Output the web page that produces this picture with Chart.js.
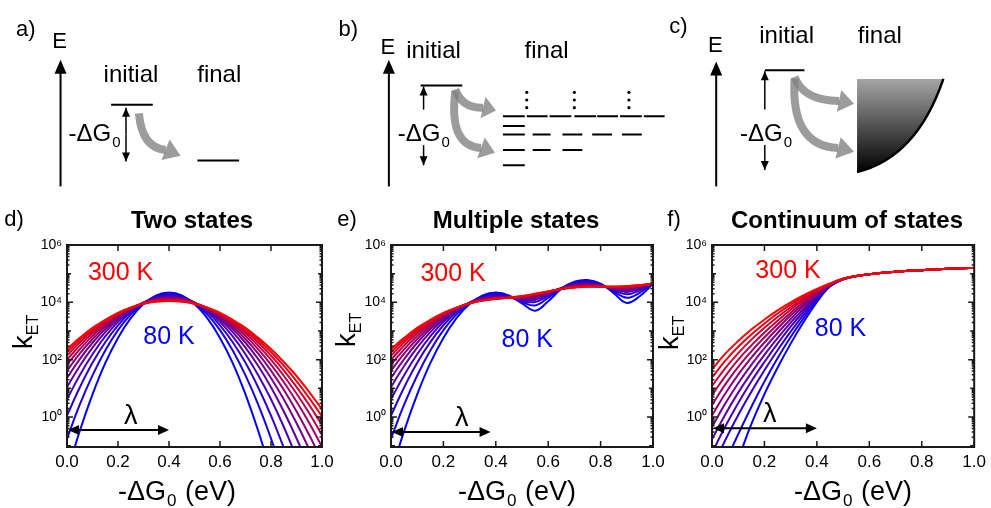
<!DOCTYPE html>
<html>
<head>
<meta charset="utf-8">
<script src="https://cdn.jsdelivr.net/npm/chart.js@4.4.1/dist/chart.umd.min.js"></script>
<style>
  body { margin: 0; background: #fff; width: 991px; height: 508px; overflow: hidden; position: relative; }
  canvas { position: absolute; }
</style>
</head>
<body>
<canvas id="top" width="991" height="200" style="left:0px;top:0px"></canvas>
<canvas id="panelD" width="340" height="308" style="left:0px;top:200px"></canvas>
<canvas id="panelE" width="340" height="308" style="left:330px;top:200px"></canvas>
<canvas id="panelF" width="336" height="308" style="left:655px;top:200px"></canvas>
<script>
// -dG0 in eV
const xs = [0, 0.05, 0.1, 0.15, 0.2, 0.25, 0.3, 0.35, 0.4, 0.45, 0.5, 0.55, 0.6, 0.65, 0.7, 0.75, 0.8, 0.85, 0.9, 0.95, 1];
const xTicks = [0, 0.2, 0.4, 0.6, 0.8, 1];
const yTicks = [1, 1e2, 1e4, 1e6];
const temps = [80, 100, 120, 140, 160, 180, 200, 220, 240, 260, 280, 300];

// log10(kET), one row per temperature (80 K ... 300 K)
const twoStates = [
  [-1.96, -0.49, 0.79, 1.88, 2.76, 3.45, 3.94, 4.24, 4.34, 4.24, 3.94, 3.45, 2.76, 1.88, 0.79, -0.49, -1.96, -3.64, -5.51, -7.57, -9.84],
  [-0.75, 0.43, 1.45, 2.32, 3.03, 3.58, 3.97, 4.21, 4.29, 4.21, 3.97, 3.58, 3.03, 2.32, 1.45, 0.43, -0.75, -2.09, -3.59, -5.24, -7.05],
  [0.05, 1.03, 1.89, 2.61, 3.20, 3.66, 3.99, 4.18, 4.25, 4.18, 3.99, 3.66, 3.20, 2.61, 1.89, 1.03, 0.05, -1.07, -2.31, -3.69, -5.20],
  [0.62, 1.46, 2.19, 2.81, 3.32, 3.71, 3.99, 4.16, 4.22, 4.16, 3.99, 3.71, 3.32, 2.81, 2.19, 1.46, 0.62, -0.34, -1.41, -2.59, -3.88],
  [1.04, 1.78, 2.42, 2.96, 3.40, 3.74, 3.99, 4.14, 4.19, 4.14, 3.99, 3.74, 3.40, 2.96, 2.42, 1.78, 1.04, 0.20, -0.74, -1.77, -2.90],
  [1.36, 2.02, 2.59, 3.07, 3.46, 3.77, 3.99, 4.12, 4.16, 4.12, 3.99, 3.77, 3.46, 3.07, 2.59, 2.02, 1.36, 0.62, -0.21, -1.13, -2.14],
  [1.62, 2.21, 2.72, 3.15, 3.51, 3.78, 3.98, 4.10, 4.14, 4.10, 3.98, 3.78, 3.51, 3.15, 2.72, 2.21, 1.62, 0.95, 0.20, -0.63, -1.53],
  [1.83, 2.36, 2.83, 3.22, 3.54, 3.80, 3.97, 4.08, 4.12, 4.08, 3.97, 3.80, 3.54, 3.22, 2.83, 2.36, 1.83, 1.22, 0.54, -0.21, -1.04],
  [2.00, 2.49, 2.92, 3.28, 3.57, 3.80, 3.97, 4.07, 4.10, 4.07, 3.97, 3.80, 3.57, 3.28, 2.92, 2.49, 2.00, 1.44, 0.82, 0.13, -0.63],
  [2.14, 2.60, 2.99, 3.32, 3.60, 3.81, 3.96, 4.05, 4.08, 4.05, 3.96, 3.81, 3.60, 3.32, 2.99, 2.60, 2.14, 1.63, 1.05, 0.42, -0.28],
  [2.27, 2.69, 3.05, 3.36, 3.62, 3.81, 3.95, 4.04, 4.07, 4.04, 3.95, 3.81, 3.62, 3.36, 3.05, 2.69, 2.27, 1.79, 1.25, 0.66, 0.02],
  [2.37, 2.76, 3.11, 3.39, 3.63, 3.81, 3.95, 4.02, 4.05, 4.02, 3.95, 3.81, 3.63, 3.39, 3.11, 2.76, 2.37, 1.92, 1.43, 0.87, 0.27]
];
const multipleStates = [
  [-1.96, -0.49, 0.79, 1.88, 2.76, 3.45, 3.94, 4.24, 4.34, 4.24, 3.96, 3.71, 4.04, 4.47, 4.72, 4.78, 4.65, 4.32, 3.98, 4.22, 4.64],
  [-0.75, 0.43, 1.45, 2.32, 3.03, 3.58, 3.97, 4.21, 4.29, 4.21, 4.01, 3.89, 4.16, 4.49, 4.69, 4.74, 4.63, 4.38, 4.16, 4.34, 4.66],
  [0.05, 1.03, 1.89, 2.61, 3.20, 3.66, 3.99, 4.18, 4.25, 4.19, 4.05, 4.01, 4.23, 4.49, 4.66, 4.70, 4.61, 4.42, 4.28, 4.42, 4.66],
  [0.62, 1.46, 2.19, 2.81, 3.32, 3.71, 3.99, 4.16, 4.22, 4.18, 4.08, 4.09, 4.28, 4.49, 4.63, 4.67, 4.60, 4.45, 4.36, 4.47, 4.67],
  [1.04, 1.78, 2.42, 2.96, 3.40, 3.74, 3.99, 4.14, 4.19, 4.17, 4.11, 4.15, 4.31, 4.49, 4.61, 4.64, 4.58, 4.47, 4.42, 4.51, 4.67],
  [1.36, 2.02, 2.59, 3.07, 3.46, 3.77, 3.99, 4.12, 4.17, 4.16, 4.14, 4.19, 4.33, 4.49, 4.59, 4.62, 4.57, 4.49, 4.46, 4.54, 4.67],
  [1.62, 2.21, 2.72, 3.15, 3.51, 3.78, 3.98, 4.10, 4.16, 4.16, 4.16, 4.22, 4.35, 4.48, 4.57, 4.60, 4.56, 4.51, 4.49, 4.56, 4.66],
  [1.83, 2.36, 2.83, 3.22, 3.54, 3.80, 3.98, 4.09, 4.14, 4.16, 4.17, 4.24, 4.36, 4.48, 4.56, 4.58, 4.56, 4.52, 4.51, 4.57, 4.66],
  [2.00, 2.49, 2.92, 3.28, 3.57, 3.80, 3.97, 4.08, 4.13, 4.16, 4.19, 4.26, 4.37, 4.47, 4.55, 4.57, 4.55, 4.53, 4.53, 4.58, 4.66],
  [2.14, 2.60, 2.99, 3.32, 3.60, 3.81, 3.97, 4.07, 4.13, 4.16, 4.20, 4.28, 4.37, 4.47, 4.53, 4.56, 4.55, 4.54, 4.54, 4.59, 4.66],
  [2.27, 2.69, 3.05, 3.36, 3.62, 3.81, 3.96, 4.06, 4.12, 4.16, 4.21, 4.29, 4.38, 4.47, 4.53, 4.55, 4.55, 4.54, 4.56, 4.60, 4.65],
  [2.37, 2.76, 3.11, 3.39, 3.63, 3.81, 3.96, 4.06, 4.12, 4.17, 4.22, 4.30, 4.38, 4.46, 4.52, 4.54, 4.55, 4.54, 4.57, 4.60, 4.65]
];
const continuum = [
  [-3.60, -2.50, -1.45, -0.25, 0.80, 1.72, 2.56, 3.32, 4.01, 4.55, 4.79, 4.91, 4.98, 5.03, 5.07, 5.10, 5.12, 5.15, 5.17, 5.19, 5.20],
  [-2.70, -1.60, -0.60, 0.35, 1.24, 2.05, 2.79, 3.46, 4.08, 4.56, 4.80, 4.91, 4.98, 5.03, 5.07, 5.10, 5.12, 5.15, 5.17, 5.19, 5.20],
  [-1.80, -0.82, 0.07, 0.88, 1.63, 2.33, 2.98, 3.58, 4.14, 4.57, 4.80, 4.91, 4.98, 5.03, 5.07, 5.10, 5.12, 5.15, 5.17, 5.19, 5.20],
  [-1.25, -0.34, 0.49, 1.24, 1.92, 2.56, 3.15, 3.69, 4.19, 4.58, 4.81, 4.92, 4.98, 5.03, 5.07, 5.10, 5.12, 5.15, 5.17, 5.19, 5.20],
  [-0.78, 0.08, 0.85, 1.54, 2.17, 2.75, 3.29, 3.78, 4.23, 4.59, 4.81, 4.92, 4.98, 5.03, 5.07, 5.10, 5.12, 5.15, 5.17, 5.19, 5.20],
  [-0.35, 0.46, 1.18, 1.82, 2.40, 2.93, 3.42, 3.87, 4.27, 4.60, 4.81, 4.92, 4.98, 5.03, 5.07, 5.10, 5.12, 5.15, 5.17, 5.19, 5.20],
  [0.05, 0.81, 1.48, 2.07, 2.60, 3.09, 3.54, 3.94, 4.31, 4.61, 4.82, 4.92, 4.98, 5.03, 5.07, 5.10, 5.12, 5.15, 5.17, 5.19, 5.20],
  [0.42, 1.13, 1.75, 2.29, 2.78, 3.23, 3.64, 4.01, 4.35, 4.62, 4.82, 4.92, 4.98, 5.03, 5.07, 5.10, 5.12, 5.15, 5.17, 5.19, 5.20],
  [0.76, 1.42, 2.00, 2.50, 2.95, 3.36, 3.74, 4.08, 4.38, 4.63, 4.82, 4.92, 4.98, 5.03, 5.07, 5.10, 5.12, 5.15, 5.17, 5.19, 5.20],
  [1.08, 1.70, 2.23, 2.70, 3.11, 3.49, 3.83, 4.14, 4.41, 4.64, 4.82, 4.92, 4.98, 5.03, 5.07, 5.10, 5.12, 5.15, 5.17, 5.19, 5.20],
  [1.38, 1.96, 2.45, 2.88, 3.26, 3.61, 3.92, 4.20, 4.44, 4.65, 4.82, 4.92, 4.98, 5.03, 5.07, 5.10, 5.12, 5.15, 5.17, 5.19, 5.20],
  [1.66, 2.20, 2.65, 3.05, 3.40, 3.72, 4.00, 4.25, 4.47, 4.66, 4.82, 4.92, 4.98, 5.03, 5.07, 5.10, 5.12, 5.15, 5.17, 5.19, 5.20]
];

// schematic row (a-c), in pixel units of the top canvas
const levelLines = [
  [108, 150, 105], [195, 237, 163],
  [420, 462, 85],
  [503, 525, 117], [527, 548, 117], [550, 572, 117], [575, 597, 117], [598, 619, 117], [621, 643, 117], [645, 666, 117],
  [503, 525, 127],
  [503, 525, 136], [533, 551, 136], [563, 583, 136], [593, 613, 136], [623, 643, 136],
  [503, 525, 152], [533, 551, 152], [563, 583, 152],
  [503, 525, 168],
  [767, 807, 69]
];
const levelDots = [[527, 92], [527, 100], [527, 108], [575, 92], [575, 100], [575, 108], [630, 92], [630, 100], [630, 108]];
const energyAxes = [[57, 58], [388, 58], [718, 60]];
const gapArrows = [[123, 136, 108], [123, 136, 164], [423, 110, 86], [423, 147, 168], [767, 110, 70], [767, 147, 173]];
const grayArrows = [
  [136, 114, 139, 150, 163, 152, 178, 158],
  [455, 89, 462, 109, 483, 108, 496, 111],
  [455, 91, 448, 148, 481, 150, 495, 155],
  [797, 76, 806, 101, 842, 101, 857, 104],
  [797, 78, 793, 148, 841, 150, 857, 154]
];
const diagramText = [
  ['a)', 22, 27], ['E', 56, 40], ['initial', 128, 74], ['final', 217, 74],
  ['b)', 347, 27], ['E', 387, 46], ['initial', 433, 49], ['final', 547, 49],
  ['c)', 680, 24], ['E', 717, 44], ['initial', 789, 34], ['final', 883, 34]
];
const gapLabels = [[65, 135], [397, 135], [742, 135]];

const FONT = '"Liberation Sans", Arial, sans-serif';
Chart.defaults.font.family = FONT;
Chart.defaults.color = '#000';
const sup = { '0': '\u2070', '2': '\u00b2', '4': '\u2074', '6': '\u2076' };

function tempColor(i) {
  const t = i / (temps.length - 1);
  return 'rgb(' + Math.round(255 * t) + ',0,' + Math.round(255 * (1 - t)) + ')';
}

function arrowHead(ctx, tx, ty, dx, dy, len, half) {
  const n = Math.hypot(dx, dy);
  dx /= n; dy /= n;
  const bx = tx - dx * len, by = ty - dy * len;
  ctx.beginPath();
  ctx.moveTo(tx, ty);
  ctx.lineTo(bx - dy * half, by + dx * half);
  ctx.lineTo(bx + dy * half, by - dx * half);
  ctx.closePath();
  ctx.fill();
}

function drawDeltaG(ctx, x, y, big, small) {
  ctx.textAlign = 'left';
  ctx.textBaseline = 'alphabetic';
  ctx.font = big + 'px ' + FONT;
  ctx.fillText('-\u0394G', x, y);
  const w = ctx.measureText('-\u0394G').width;
  ctx.font = small + 'px ' + FONT;
  ctx.fillText('0', x + w + 1, y + big * 0.25);
}

const diagramDeco = {
  id: 'diagramDeco',
  afterDatasetsDraw(chart) {
    const ctx = chart.ctx;
    const X = v => chart.scales.x.getPixelForValue(v);
    const Y = v => chart.scales.y.getPixelForValue(v);
    ctx.save();
    // continuum of final states
    const g = ctx.createLinearGradient(0, Y(78), 0, Y(175));
    g.addColorStop(0, 'rgb(165,165,165)');
    g.addColorStop(1, 'rgb(0,0,0)');
    ctx.beginPath();
    ctx.moveTo(X(860), Y(78));
    ctx.lineTo(X(947), Y(78));
    ctx.quadraticCurveTo(X(920), Y(160), X(860), Y(175));
    ctx.closePath();
    ctx.fillStyle = g;
    ctx.fill();
    ctx.beginPath();
    ctx.moveTo(X(947), Y(78));
    ctx.quadraticCurveTo(X(920), Y(160), X(860), Y(175));
    ctx.strokeStyle = '#000';
    ctx.lineWidth = 2.5;
    ctx.stroke();

    // energy axes
    ctx.fillStyle = '#000';
    ctx.lineWidth = 2;
    energyAxes.forEach(([x, tip]) => {
      ctx.beginPath();
      ctx.moveTo(X(x), Y(190));
      ctx.lineTo(X(x), Y(tip + 10));
      ctx.stroke();
      arrowHead(ctx, X(x), Y(tip), 0, -1, 14, 6);
    });
    // -dG0 arrows
    ctx.lineWidth = 1.5;
    gapArrows.forEach(([x, from, tip]) => {
      ctx.beginPath();
      ctx.moveTo(X(x), Y(from));
      ctx.lineTo(X(x), Y(tip));
      ctx.stroke();
      arrowHead(ctx, X(x), Y(tip), 0, tip < from ? -1 : 1, 9, 4);
    });
    // grey transfer arrows
    ctx.strokeStyle = 'rgba(128,128,128,0.78)';
    ctx.fillStyle = 'rgba(128,128,128,0.78)';
    ctx.lineWidth = 8;
    grayArrows.forEach(([sx, sy, cx, cy, ex, ey, tx, ty]) => {
      ctx.beginPath();
      ctx.moveTo(X(sx), Y(sy));
      ctx.quadraticCurveTo(X(cx), Y(cy), X(ex), Y(ey));
      ctx.stroke();
      const len = Math.hypot(tx - ex, ty - ey);
      arrowHead(ctx, X(tx), Y(ty), tx - ex, ty - ey, len, 11);
    });
    // labels
    ctx.fillStyle = '#000';
    diagramText.forEach(([t, x, y]) => {
      ctx.font = (t.length < 3 ? 22 : 24) + 'px ' + FONT;
      ctx.textAlign = 'center';
      ctx.textBaseline = 'middle';
      ctx.fillText(t, X(x), Y(y));
    });
    gapLabels.forEach(([x, y]) => drawDeltaG(ctx, X(x), Y(y + 8), 24, 15));
    ctx.restore();
  }
};

const levelData = [];
levelLines.forEach(([x1, x2, y]) => {
  levelData.push({ x: x1, y: y }, { x: x2, y: y }, { x: x2, y: null });
});

new Chart(document.getElementById('top'), {
  type: 'line',
  data: {
    datasets: [
      { data: levelData, borderColor: '#000', borderWidth: 2, pointRadius: 0, tension: 0, spanGaps: false },
      { data: levelDots.map(([x, y]) => ({ x, y })), showLine: false, pointRadius: 1.6, pointBackgroundColor: '#000', pointBorderWidth: 0 }
    ]
  },
  options: {
    responsive: false, animation: false, devicePixelRatio: 1, events: [],
    layout: { padding: 0 },
    plugins: { legend: { display: false }, tooltip: { enabled: false } },
    scales: {
      x: { type: 'linear', min: 0, max: 991, display: false },
      y: { type: 'linear', min: 0, max: 200, reverse: true, display: false }
    }
  },
  plugins: [diagramDeco]
});

const panelDeco = {
  id: 'panelDeco',
  afterDatasetsDraw(chart, args, o) {
    const ctx = chart.ctx, a = chart.chartArea;
    const sx_ = chart.scales.x, sy_ = chart.scales.y;
    const px = v => sx_.getPixelForValue(v);
    const py = e => sy_.getPixelForValue(Math.pow(10, e));
    ctx.save();
    // frame with inward ticks on all sides
    ctx.strokeStyle = '#1a1a1a';
    ctx.lineWidth = 2;
    ctx.strokeRect(a.left, a.top, a.right - a.left, a.bottom - a.top);
    ctx.lineWidth = 1.5;
    ctx.beginPath();
    xTicks.forEach(v => {
      const p = px(v);
      ctx.moveTo(p, a.bottom); ctx.lineTo(p, a.bottom - 6);
      ctx.moveTo(p, a.top); ctx.lineTo(p, a.top + 6);
    });
    for (let e = -2; e < 6; e++) {
      for (let m = 1; m < 10; m++) {
        const v = m * Math.pow(10, e);
        if (v < sy_.min || v > sy_.max) continue;
        const p = sy_.getPixelForValue(v);
        const len = m > 1 ? 2.5 : (e % 2 === 0 ? 6 : 4);
        ctx.moveTo(a.left, p); ctx.lineTo(a.left + len, p);
        ctx.moveTo(a.right, p); ctx.lineTo(a.right - len, p);
      }
    }
    ctx.stroke();

    // temperature labels
    ctx.textAlign = 'center';
    ctx.textBaseline = 'middle';
    ctx.font = '25px ' + FONT;
    ctx.fillStyle = tempColor(temps.length - 1);
    ctx.fillText('300 K', px(o.hot[0]), py(o.hot[1]));
    ctx.fillStyle = tempColor(0);
    ctx.fillText('80 K', px(o.cold[0]), py(o.cold[1]));

    // lambda with double arrow
    ctx.fillStyle = '#000';
    ctx.strokeStyle = '#000';
    ctx.font = '27px ' + FONT;
    ctx.fillText('\u03bb', px(o.lam[0]), py(o.lam[1]));
    const ay = py(o.arrowY), x0 = px(0), x1 = px(o.arrowEnd);
    ctx.lineWidth = 2;
    ctx.beginPath();
    ctx.moveTo(x0 + 6, ay); ctx.lineTo(x1 - 6, ay);
    ctx.stroke();
    arrowHead(ctx, x0 + 1, ay, -1, 0, 11, 5);
    arrowHead(ctx, x1, ay, 1, 0, 11, 5);

    // panel letter and title
    ctx.font = '22px ' + FONT;
    ctx.fillText(o.letter, o.letterX, 20);
    ctx.font = 'bold 24px ' + FONT;
    ctx.fillText(o.title, o.titleX, 21);

    // x axis title
    ctx.font = '27px ' + FONT;
    const w1 = ctx.measureText('-\u0394G').width;
    ctx.font = '17px ' + FONT;
    const w2 = ctx.measureText('0').width;
    ctx.font = '27px ' + FONT;
    const w3 = ctx.measureText(' (eV)').width;
    const sx = o.xTitleX - (w1 + w2 + w3 + 2) / 2;
    ctx.textAlign = 'left';
    ctx.textBaseline = 'alphabetic';
    ctx.fillText('-\u0394G', sx, 300);
    ctx.font = '17px ' + FONT;
    ctx.fillText('0', sx + w1 + 1, 306);
    ctx.font = '27px ' + FONT;
    ctx.fillText(' (eV)', sx + w1 + w2 + 2, 300);

    // y axis title k_ET
    ctx.translate(o.kX, o.kY);
    ctx.rotate(-Math.PI / 2);
    ctx.font = '28px ' + FONT;
    const kw = ctx.measureText('k').width;
    ctx.font = '16px ' + FONT;
    const ew = ctx.measureText('ET').width;
    const start = -(kw + ew) / 2;
    ctx.font = '28px ' + FONT;
    ctx.fillText('k', start, 0);
    ctx.font = '16px ' + FONT;
    ctx.fillText('ET', start + kw, 6);
    ctx.restore();
  }
};

function makePanel(id, rows, leftW, rightPad, deco) {
  const datasets = rows.map((row, i) => ({
    data: row.map((v, j) => ({ x: xs[j], y: Math.pow(10, v) })),
    borderColor: tempColor(i),
    borderWidth: 2,
    pointRadius: 0,
    tension: 0.4,
    clip: 0
  })).reverse();
  new Chart(document.getElementById(id), {
    type: 'line',
    data: { datasets },
    options: {
      responsive: false, animation: false, devicePixelRatio: 1, events: [],
      layout: { padding: { top: 45, right: rightPad, left: 0, bottom: 0 } },
      plugins: { legend: { display: false }, tooltip: { enabled: false }, panelDeco: deco },
      scales: {
        x: {
          type: 'linear', min: 0, max: 1,
          afterBuildTicks: s => { s.ticks = xTicks.map(v => ({ value: v })); },
          afterFit: s => { s.height = 61; },
          ticks: { callback: v => v.toFixed(1), font: { size: 17 }, padding: 5, maxRotation: 0, autoSkip: false },
          grid: { display: false, drawTicks: false },
          border: { display: false }
        },
        y: {
          type: 'logarithmic', min: 0.09, max: 1e6,
          afterBuildTicks: s => { s.ticks = yTicks.map(v => ({ value: v })); },
          afterFit: s => { s.width = leftW; },
          ticks: {
            callback: v => '10' + sup[String(Math.round(Math.log10(v)))],
            font: { size: 14 }, padding: 5, autoSkip: false
          },
          grid: { display: false, drawTicks: false },
          border: { display: false }
        }
      }
    },
    plugins: [panelDeco]
  });
}

makePanel('panelD', twoStates, 67, 18, {
  letter: 'd)', letterX: 14, title: 'Two states', titleX: 192,
  hot: [0.21, 5.02], cold: [0.40, 2.8], lam: [0.25, 0.0], arrowY: -0.45, arrowEnd: 0.4,
  xTitleX: 177, kX: 32, kY: 132
});
makePanel('panelE', multipleStates, 61, 17, {
  letter: 'e)', letterX: 17, title: 'Multiple states', titleX: 186,
  hot: [0.237, 4.97], cold: [0.52, 2.67], lam: [0.27, -0.07], arrowY: -0.52, arrowEnd: 0.38,
  xTitleX: 187, kX: 25, kY: 130
});
makePanel('panelF', continuum, 57, 16, {
  letter: 'f)', letterX: 19, title: 'Continuum of states', titleX: 192,
  hot: [0.29, 5.09], cold: [0.49, 3.08], lam: [0.22, 0.1], arrowY: -0.39, arrowEnd: 0.4,
  xTitleX: 198, kX: 23, kY: 133
});
</script>
</body>
</html>
